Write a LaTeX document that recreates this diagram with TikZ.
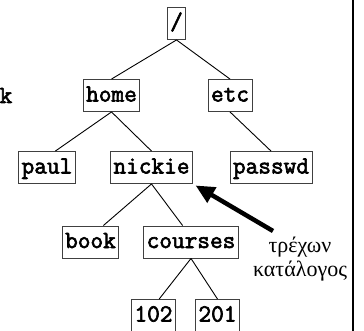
\documentclass[tikz,border=0pt]{standalone}
\usepackage{fontspec}
\newfontfamily\dirfont{Latin Modern Mono}[FakeBold=2.6]
\newfontfamily\greekfont{Liberation Serif}
\usetikzlibrary{arrows.meta}

\begin{document}
\begin{tikzpicture}[x=1pt, y=-1pt, >=Stealth]

% Styles
\tikzset{
  dirbox/.style={draw=black!75, line width=0.9pt, inner xsep=3pt, inner ysep=0pt,
    text height=22pt, text depth=10pt, font=\dirfont\fontsize{24.6}{26}\selectfont},
  branch/.style={line width=0.9pt},
  current/.style={line width=4.5pt, -{Triangle[length=19pt,width=17pt]}, shorten >=3pt}
}

\useasboundingbox (0,0) rectangle (364,331);

% Right border of the page
\draw[line width=2pt] (353,0) -- (353,331);

% Left-over letter at the edge
\node[anchor=base east, inner sep=0pt, font=\dirfont\fontsize{24.6}{26}\selectfont] (cut) at (12.5,103) {k};

% Directory tree
\node[dirbox] (root)    at (176.5,23.5) {/};
\node[dirbox] (home)    at (111.5,95.5) {home};
\node[dirbox] (etc)     at (230,95.5)   {etc};
\node[dirbox] (paul)    at (47,167.5)   {paul};
\node[dirbox] (nickie)  at (151.5,167.5) {nickie};
\node[dirbox] (passwd)  at (271,167.5)  {passwd};
\node[dirbox] (book)    at (90.5,242)   {book};
\node[dirbox] (courses) at (191,242)    {courses};
\node[dirbox] (c102)    at (153.5,315.5) {102};
\node[dirbox] (c201)    at (217.5,315.5) {201};

\draw[branch] (root.south) -- (home.north);
\draw[branch] (root.south) -- (etc.north);
\draw[branch] (home.south) -- (paul.63);
\draw[branch] (home.south) -- (nickie.north);
\draw[branch] (etc.south) -- (passwd.north);
\draw[branch] (nickie.south) -- (book.52);
\draw[branch] (nickie.south) -- (courses.117);
\draw[branch] (courses.south) -- (c102.71);
\draw[branch] (courses.south) -- (c201.north);

% Current directory
\node[align=center, inner sep=0pt, font=\greekfont\fontsize{22}{24}\selectfont] (cwdtext) at (300,259) {τρέχων\\κατάλογος};
\coordinate (tail) at (273,231);
\draw[current] (tail) -- (nickie.south east);

\end{tikzpicture}
\end{document}
